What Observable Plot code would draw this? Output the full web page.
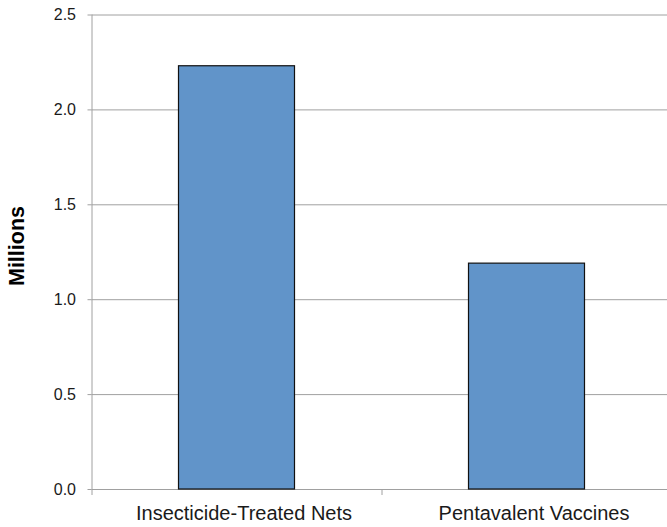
<!DOCTYPE html>
<html>
<head>
<meta charset="utf-8">
<script src="https://cdn.jsdelivr.net/npm/d3@7"></script>
<script src="https://cdn.jsdelivr.net/npm/@observablehq/plot@0.6"></script>
<style>
  html, body { margin: 0; padding: 0; background: #fff; }
  #chart { position: relative; width: 667px; height: 527px; }
  #ylabel { position: absolute; left: 17px; top: 246px; transform: translate(-50%, -50%) rotate(-90deg);
    font: bold 21.5px "Liberation Sans", Arial, sans-serif; color: #000; white-space: nowrap; }
</style>
</head>
<body>
<div id="chart"><div id="ylabel">Millions</div></div>
<script>
const categories = ["Insecticide-Treated Nets", "Pentavalent Vaccines"];
const values = [2.23, 1.19];
const yTicks = [0, 0.5, 1.0, 1.5, 2.0, 2.5];
const yTitle = "Millions";

const data = categories.map((c, i) => ({name: c, idx: i, value: values[i]}));
const grid = "#a0a0a0";

const chart = Plot.plot({
  width: 667,
  height: 527,
  marginLeft: 91.5,
  marginRight: 0,
  marginTop: 14.5,
  marginBottom: 38,
  style: {fontFamily: "'Liberation Sans', Arial, sans-serif", color: "#1a1a1a", background: "transparent"},
  x: {type: "linear", domain: [0, categories.length], range: [91.5, 671.5]},
  y: {domain: [0, 2.5]},
  marks: [
    Plot.gridY(yTicks, {stroke: grid, strokeOpacity: 1, strokeWidth: 1}),
    Plot.ruleX([0], {y1: 0, y2: 2.5, stroke: grid, strokeWidth: 1}),
    Plot.rectY(data, {x1: d => d.idx + 0.3, x2: d => d.idx + 0.7, y1: 0, y2: "value", fill: "#6194c9", stroke: "#111", strokeWidth: 1.2}),
    Plot.axisY(yTicks, {tickFormat: d3.format(".1f"), tickSize: 4, tickPadding: 12, stroke: grid, fontSize: 16, label: null}),
    Plot.axisX(d3.range(categories.length + 1), {tickFormat: () => "", tickSize: 6, stroke: grid, label: null}),
    Plot.axisX(categories.map((c, i) => i + 0.5), {tickFormat: d => categories[Math.floor(d)], tickSize: 0, tickPadding: 16, dx: 7, fontSize: 20, label: null})
  ]
});
document.getElementById("chart").appendChild(chart);
</script>
</body>
</html>
